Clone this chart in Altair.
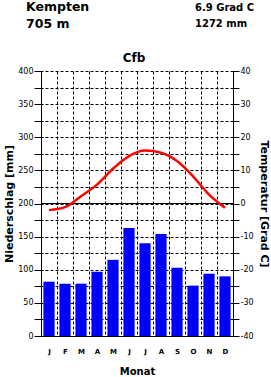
import altair as alt
import pandas as pd

# ---- data ----
months = ['J', 'F', 'M', 'A', 'M', 'J', 'J', 'A', 'S', 'O', 'N', 'D']
month_num = list(range(1, 13))
precip = [82, 79, 79, 97, 115, 163, 140, 154, 103, 76, 94, 90]
temp = [-2.0, -1.1, 2.2, 5.7, 10.5, 14.3, 16.0, 15.3, 12.8, 8.2, 2.7, -1.3]

precip_ticks = list(range(0, 401, 25))
temp_ticks = list(range(-40, 41, 5))

station = 'Kempten'
elevation = '705 m'
mean_temp_txt = '6.9 Grad C'
sum_precip_txt = '1272 mm'
climate = 'Cfb'

df = pd.DataFrame({'m': month_num, 'p': precip, 't': temp})
one = pd.DataFrame({'a': [0]})

FONT = 'DejaVu Sans'
W, H = 192, 265
label_expr = "[" + ",".join(f"'{m}'" for m in months) + "][datum.value-1]"

xenc = alt.X('m:O', scale=alt.Scale(paddingInner=0, paddingOuter=0),
             axis=alt.Axis(title='Monat', labelExpr=label_expr, tickBand='extent',
                           grid=True, gridDash=[3, 2], gridColor='black', gridOpacity=1,
                           ticks=False, labelAngle=0, labelFont=FONT, labelFontWeight='bold',
                           labelFontSize=7, labelPadding=11, titleFont=FONT, titleFontSize=10,
                           titleFontWeight='bold', titlePadding=12))

bars = alt.Chart(df).mark_bar(color='#0000FF', width=alt.RelativeBandSize(0.7)).encode(
    x=xenc,
    y=alt.Y('p:Q', scale=alt.Scale(domain=[0, 400], nice=False),
            axis=alt.Axis(title='Niederschlag [mm]', values=precip_ticks, tickCount=40,
                          grid=False,
                          labelExpr="datum.value % 50 == 0 ? '' + datum.value : ''",
                          labelOverlap=False, labelFlush=False,
                          tickSize=7, labelFont=FONT, labelFontSize=8, labelPadding=1,
                          titleFont=FONT, titleFontSize=11, titleFontWeight='bold', titlePadding=3))
)

rule0 = alt.Chart(one).mark_rule(color='black', strokeWidth=1).encode(y=alt.datum(0))

line = alt.Chart(df).mark_line(color='#FF0000', strokeWidth=2.5, interpolate='monotone').encode(
    x=xenc,
    y=alt.Y('t:Q', scale=alt.Scale(domain=[-40, 40], nice=False),
            axis=alt.Axis(title='Temperatur [Grad C]', orient='right', titleAngle=90,
                          values=temp_ticks, tickCount=40,
                          labelExpr="datum.value % 10 == 0 ? '' + datum.value : ''",
                          labelOverlap=False, labelFlush=False,
                          grid=True, gridDash=[3, 2], gridColor='black', gridOpacity=1,
                          tickSize=6, labelFont=FONT, labelFontSize=8, labelPadding=1,
                          titleFont=FONT, titleFontSize=11, titleFontWeight='bold', titlePadding=5))
)

temp_layer = alt.layer(rule0, line)


def txt(s, x, y, size, align='left'):
    return alt.Chart(one).mark_text(text=s, font=FONT, fontSize=size, fontWeight='bold',
                                    align=align, baseline='alphabetic', color='black').encode(
        x=alt.value(x), y=alt.value(y))


texts = [
    txt(station, -15, -60, 12.5),
    txt(elevation, -15, -43, 12.5),
    txt(mean_temp_txt, 154, -60, 10),
    txt(sum_precip_txt, 154, -44, 10),
    txt(climate, 93, -9, 12, 'center'),
]

chart = alt.layer(bars, temp_layer, *texts).resolve_scale(y='independent').properties(
    width=W, height=H,
    autosize=alt.AutoSizeParams(type='none'),
    padding={'left': 41, 'top': 71, 'right': 38, 'bottom': 41},
    background='white'
).configure_view(stroke=None).configure_axis(
    domainColor='black', tickColor='black', labelColor='black', titleColor='black'
)

chart.save('out.html', embed_options={'renderer': 'svg', 'actions': False})
